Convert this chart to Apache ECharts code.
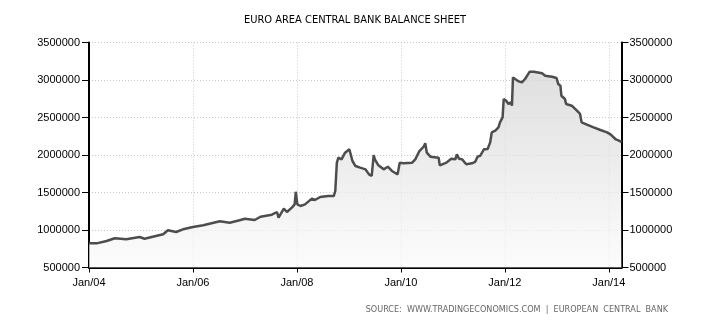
<!DOCTYPE html>
<html>
<head>
<meta charset="utf-8">
<script src="https://cdn.jsdelivr.net/npm/echarts@6/dist/echarts.min.js"></script>
<style>
html,body{margin:0;padding:0;background:#fff;}
#chart{width:710px;height:325px;}
</style>
</head>
<body>
<div id="chart"></div>
<script>
// ---- data ----
const chartTitle = 'EURO AREA CENTRAL BANK BALANCE SHEET';
const sourceText = 'SOURCE:  WWW.TRADINGECONOMICS.COM  |  EUROPEAN  CENTRAL  BANK';
const dates = [
 '2004-01-01','2004-02-24','2004-05-04','2004-07-01','2004-09-19','2004-12-23',
 '2005-01-26','2005-03-25','2005-06-06','2005-07-09','2005-09-05','2005-10-23',
 '2006-01-01','2006-03-14','2006-04-27','2006-07-09','2006-09-16','2006-11-24',
 '2007-01-01','2007-03-10','2007-04-20','2007-07-09','2007-08-14','2007-08-25',
 '2007-10-01','2007-10-23','2007-11-28','2007-12-16','2007-12-24','2008-01-04',
 '2008-01-26','2008-02-27','2008-04-15','2008-05-07','2008-06-13','2008-08-07',
 '2008-09-16','2008-09-27','2008-10-08','2008-10-19','2008-11-10','2008-12-05',
 '2009-01-04','2009-01-15','2009-01-26','2009-02-16','2009-03-21','2009-04-27',
 '2009-05-22','2009-06-10','2009-06-24','2009-07-02','2009-07-27','2009-09-02',
 '2009-10-01','2009-10-30','2009-12-09','2009-12-24','2010-01-18','2010-03-21',
 '2010-04-12','2010-05-11','2010-06-10','2010-06-21','2010-07-02','2010-07-27',
 '2010-09-23','2010-10-01','2010-11-17','2010-12-20','2011-01-18','2011-01-29',
 '2011-02-13','2011-03-07','2011-04-05','2011-05-15','2011-06-06','2011-06-24',
 '2011-07-12','2011-08-07','2011-09-02','2011-09-20','2011-10-01','2011-10-26',
 '2011-11-17','2011-11-28','2011-12-16','2011-12-24','2012-01-11','2012-01-26',
 '2012-02-13','2012-02-20','2012-02-27','2012-03-13','2012-04-08','2012-04-30',
 '2012-05-22','2012-06-24','2012-07-23','2012-09-19','2012-10-11','2012-11-28',
 '2012-12-30','2013-01-11','2013-01-26','2013-02-02','2013-02-27','2013-03-07',
 '2013-04-16','2013-05-22','2013-06-13','2013-06-24','2013-07-31','2013-09-16',
 '2013-11-03','2013-12-20','2014-01-15','2014-02-16','2014-03-25','2014-03-31'
];
const balance = [
 823000,822000,853000,890000,877000,907000,
 884000,911000,943000,996000,973000,1009000,
 1040000,1063000,1084000,1116000,1097000,1129000,
 1150000,1133000,1177000,1204000,1240000,1164000,
 1284000,1240000,1302000,1342000,1510000,1342000,
 1320000,1342000,1418000,1400000,1440000,1453000,
 1453000,1520000,1897000,1964000,1942000,2031000,
 2076000,2053000,1920000,1853000,1831000,1809000,
 1742000,1720000,2000000,1942000,1862000,1809000,
 1844000,1787000,1742000,1898000,1889000,1898000,
 1942000,2053000,2111000,2156000,2031000,1978000,
 1964000,1862000,1898000,1951000,1942000,2009000,
 1951000,1942000,1876000,1889000,1907000,1978000,
 1990000,2076000,2080000,2168000,2302000,2324000,
 2368000,2435000,2502000,2747000,2724000,2680000,
 2702000,2657000,3035000,3013000,2981000,2968000,
 3013000,3111000,3111000,3089000,3057000,3044000,
 3027000,2946000,2924000,2790000,2747000,2680000,
 2657000,2591000,2547000,2435000,2404000,2368000,
 2333000,2302000,2271000,2213000,2182000,2168000
];
const yMin = 500000, yMax = 3500000, yStep = 500000;
const xStartYear = 2004, xStepYears = 2;

// date string -> fractional year
function toYear(s) {
  const [y, m, d] = s.split('-').map(Number);
  const t0 = Date.UTC(y, 0, 1), t1 = Date.UTC(y + 1, 0, 1);
  return y + (Date.UTC(y, m - 1, d) - t0) / (t1 - t0);
}
const seriesData = dates.map((d, i) => [toYear(d), balance[i]]);

const labelFont = {fontFamily: 'Liberation Sans, Arial, sans-serif', fontSize: 11, color: '#000'};
const plainNum = v => String(Math.round(v));

const chart = echarts.init(document.getElementById('chart'), null, {renderer: 'canvas'});
chart.setOption({
  animation: false,
  backgroundColor: '#fff',
  title: {
    text: chartTitle, left: 'center', top: 10,
    textStyle: {fontFamily: 'DejaVu Sans Condensed, Liberation Sans Narrow, sans-serif', fontSize: 11, fontWeight: 'normal', color: '#000'}
  },
  graphic: [{
    type: 'text', right: 42, top: 305,
    style: {text: sourceText, fill: '#666', font: '9px "DejaVu Sans Condensed", "Liberation Sans Narrow", sans-serif'}
  }],
  grid: {left: 89, right: 88.5, top: 42.5, bottom: 57.5, containLabel: false},
  xAxis: {
    type: 'value', min: xStartYear, max: 'dataMax', interval: xStepYears,
    axisLine: {show: true, lineStyle: {color: '#000', width: 2}},
    axisTick: {show: true, length: 5, lineStyle: {color: '#000'}},
    axisLabel: Object.assign({margin: 10, showMaxLabel: false,
      formatter: v => 'Jan/' + String(Math.round(v)).slice(2)}, labelFont),
    splitLine: {show: true, lineStyle: {color: '#c8c8c8', type: [1, 2], width: 1}}
  },
  yAxis: [{
    type: 'value', position: 'left', min: yMin, max: yMax, interval: yStep,
    axisLine: {show: true, lineStyle: {color: '#000', width: 2}},
    axisTick: {show: true, length: 7, lineStyle: {color: '#000'}},
    axisLabel: Object.assign({margin: 9, formatter: plainNum}, labelFont),
    splitLine: {show: true, lineStyle: {color: '#c8c8c8', type: [1, 2], width: 1}}
  }, {
    type: 'value', position: 'right', min: yMin, max: yMax, interval: yStep,
    axisLine: {show: true, lineStyle: {color: '#000', width: 2}},
    axisTick: {show: true, length: 7, lineStyle: {color: '#000'}},
    axisLabel: Object.assign({margin: 8, formatter: plainNum}, labelFont),
    splitLine: {show: false}
  }],
  series: [{
    type: 'line', data: seriesData, yAxisIndex: 0,
    symbol: 'none', smooth: false,
    lineStyle: {color: '#4d4d4d', width: 2.5},
    areaStyle: {
      origin: 'start',
      color: new echarts.graphic.LinearGradient(0, 0, 0, 1, [
        {offset: 0, color: '#d2d2d2'},
        {offset: 1, color: '#fbfbfb'}
      ])
    }
  }]
});
</script>
</body>
</html>
